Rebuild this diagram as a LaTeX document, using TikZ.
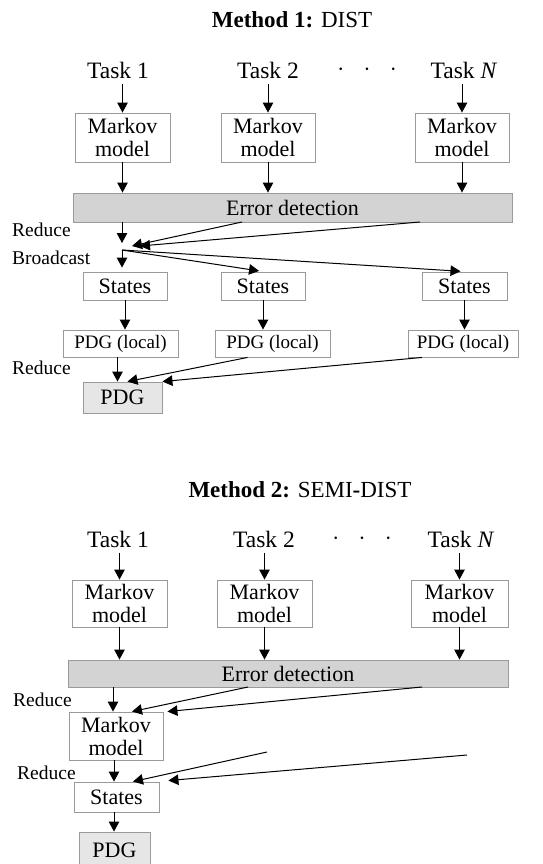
\documentclass[tikz,border=0pt]{standalone}
\usepackage{fontspec}
\setmainfont{Liberation Serif}
\usetikzlibrary{arrows.meta,calc}

\definecolor{boxline}{HTML}{9A9A9A}
\definecolor{errfill}{HTML}{D3D3D3}
\definecolor{pdgfill}{HTML}{E6E6E6}

\tikzset{
  box/.style={draw=boxline, line width=0.9pt, fill=white, inner sep=0pt, align=center,
    font=\fontsize{22}{23}\selectfont},
  errbox/.style={box, fill=errfill},
  pdgbox/.style={box, fill=pdgfill},
  localbox/.style={box, font=\fontsize{19}{20}\selectfont},
  tasklabel/.style={inner sep=0pt, font=\fontsize{23.5}{24}\selectfont},
  sidelabel/.style={inner sep=0pt, anchor=west, font=\fontsize{19.5}{20}\selectfont},
  titlelabel/.style={inner sep=0pt, font=\fontsize{23}{24}\selectfont},
  flow/.style={line width=1pt, -{Triangle[length=10pt,width=10.5pt]}}
}

\begin{document}
\begin{tikzpicture}[x=1pt,y=-1pt]
\useasboundingbox (0,0) rectangle (543,864);
\clip (0,0) rectangle (543,864);

% Method 1
\node [titlelabel] (title1) at (292,20) {\textbf{Method 1:} DIST};
\node [tasklabel] (t11) at (118,70) {Task 1};
\node [tasklabel] (t12) at (268,70) {Task 2};
\node [tasklabel] (dots1) at (367,70) {$\cdot\;\;\cdot\;\;\cdot$};
\node [tasklabel] (t1N) at (464,70) {Task \textit{N}};
\node [box, minimum width=95, minimum height=49] (mk11) at (122.5,137.5) {Markov\\model};
\node [box, minimum width=94, minimum height=49] (mk12) at (268,137.5) {Markov\\model};
\node [box, minimum width=94, minimum height=49] (mk13) at (462,137.5) {Markov\\model};
\node [errbox, minimum width=439, minimum height=29] (err1) at (292.5,207.5) {Error detection};
\node [sidelabel] (red1lbl) at (12,230) {Reduce};
\node [sidelabel] (bclbl) at (12,258) {Broadcast};
\coordinate (red1) at (122,243);
\coordinate (ea1) at (242,222);
\coordinate (ea2) at (420,222);
\coordinate (bc) at (122,250);
\node [box, minimum width=84, minimum height=28] (st11) at (125,286) {States};
\node [box, minimum width=84, minimum height=28] (st12) at (263,286) {States};
\node [box, minimum width=85, minimum height=28] (st13) at (464.5,286) {States};
\node [localbox, minimum width=115, minimum height=27] (pl11) at (120.5,343.5) {PDG (local)};
\node [localbox, minimum width=115, minimum height=27] (pl12) at (272.5,343.5) {PDG (local)};
\node [localbox, minimum width=110, minimum height=27] (pl13) at (463,343.5) {PDG (local)};
\node [sidelabel] (red2lbl) at (12,368) {Reduce};
\node [pdgbox, minimum width=79, minimum height=31] (pdg1) at (122.5,397.5) {PDG};

\draw [flow, shorten <=6pt] (mk11.north |- t11.south) -- (mk11.north);
\draw [flow, shorten <=6pt] (mk12.north |- t12.south) -- (mk12.north);
\draw [flow, shorten <=6pt] (mk13.north |- t1N.south) -- (mk13.north);
\draw [flow] (mk11.south) -- (mk11.south |- err1.north);
\draw [flow] (mk12.south) -- (mk12.south |- err1.north);
\draw [flow] (mk13.south) -- (mk13.south |- err1.north);
\draw [flow] (red1 |- err1.south) -- (red1);
\draw [flow] (ea1) -- ([xshift=10pt,yshift=-3pt]red1);
\draw [flow] (ea2) -- ([xshift=18pt,yshift=-3pt]red1);
\draw [flow, shorten >=4pt] (bc) -- (bc |- st11.north);
\draw [flow, shorten >=4pt] (bc) -- (st12.north);
\draw [flow, shorten >=4pt] (bc) -- (st13.north);
\draw [flow] (st11.south) -- (st11.south |- pl11.north);
\draw [flow] (st12.south) -- (st12.south |- pl12.north);
\draw [flow] (st13.south) -- (st13.south |- pl13.north);
\draw [flow] ([xshift=-3pt]pl11.south) -- ([xshift=-3pt]pl11.south |- pdg1.north);
\draw [flow] ([xshift=-25pt]pl12.south) -- ([xshift=5pt]pdg1.north);
\draw [flow] ([xshift=-41pt]pl13.south) -- (pdg1.north east);

% Method 2
\node [titlelabel] (title2) at (300,490) {\textbf{Method 2: }SEMI\textbf{-}DIST};
\node [tasklabel] (t21) at (118,539) {Task 1};
\node [tasklabel] (t22) at (264,539) {Task 2};
\node [tasklabel] (dots2) at (362,539) {$\cdot\;\;\cdot\;\;\cdot$};
\node [tasklabel] (t2N) at (461,539) {Task \textit{N}};
\node [box, minimum width=95, minimum height=47] (mk21) at (119.5,603.5) {Markov\\model};
\node [box, minimum width=95, minimum height=47] (mk22) at (264.5,603.5) {Markov\\model};
\node [box, minimum width=97, minimum height=47] (mk23) at (459.5,603.5) {Markov\\model};
\node [errbox, minimum width=440, minimum height=27] (err2) at (288,673.5) {Error detection};
\node [sidelabel] (red3lbl) at (13,700) {Reduce};
\coordinate (ea3) at (248,687);
\coordinate (ea4) at (422,687);
\node [box, minimum width=94, minimum height=48] (mkr) at (116,736) {Markov\\model};
\node [sidelabel] (red4lbl) at (17,773) {Reduce};
\coordinate (fr1) at (267,752);
\coordinate (fr2) at (467,755);
\node [box, minimum width=85, minimum height=30] (st2) at (116.5,797) {States};
\node [pdgbox, minimum width=71, minimum height=36] (pdg2) at (114.5,850) {PDG};

\draw [flow, shorten <=6pt] (mk21.north |- t21.south) -- (mk21.north);
\draw [flow, shorten <=6pt] (mk22.north |- t22.south) -- (mk22.north);
\draw [flow, shorten <=6pt] (mk23.north |- t2N.south) -- (mk23.north);
\draw [flow] (mk21.south) -- (mk21.south |- err2.north);
\draw [flow] (mk22.south) -- (mk22.south |- err2.north);
\draw [flow] (mk23.south) -- (mk23.south |- err2.north);
\draw [flow] ([xshift=-3pt]mkr.north |- err2.south) -- ([xshift=-3pt]mkr.north);
\draw [flow] (ea3) -- ([xshift=16pt]mkr.north);
\draw [flow] (ea4) -- ([xshift=4pt]mkr.north east);
\draw [flow] ([xshift=-2pt]mkr.south) -- ([xshift=-2pt]mkr.south |- st2.north);
\draw [flow] (fr1) -- ([xshift=16.5pt]st2.north);
\draw [flow] (fr2) -- ([xshift=9pt,yshift=1pt]st2.north east);
\draw [flow] ([xshift=-2.5pt]st2.south) -- ([xshift=-2.5pt]st2.south |- pdg2.north);
\end{tikzpicture}
\end{document}
